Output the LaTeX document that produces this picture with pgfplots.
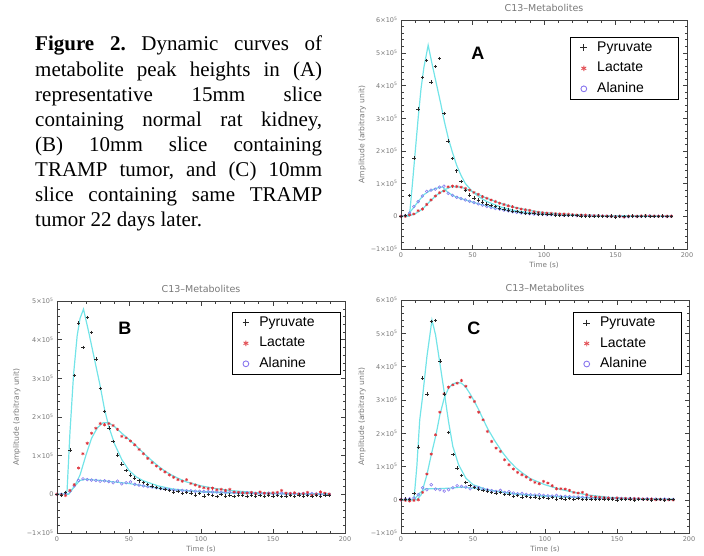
\documentclass[border=0pt]{standalone}
\usepackage{fontspec}
\setmainfont{Liberation Serif}
\newfontfamily\axfont{DejaVu Sans}
\newfontfamily\lsans{Liberation Sans}
\usepackage{pgfplots}
\pgfplotsset{compat=1.18}
\usepackage{pgfplotstable}

\definecolor{fitc}{RGB}{115,228,232}
\definecolor{lacc}{RGB}{222,50,58}
\definecolor{alac}{RGB}{136,118,238}
\definecolor{pyrc}{RGB}{40,40,40}
\definecolor{tickc}{RGB}{120,120,120}

\pgfplotstableread{
t p l a
0 0.00 0.00 0.00
3 0.02 0.00 0.02
6 0.63 0.04 0.10
9 1.78 0.07 0.30
12 3.28 0.17 0.45
15 4.24 0.22 0.62
18 4.77 0.36 0.76
21 4.10 0.50 0.80
24 4.58 0.62 0.83
27 4.82 0.72 0.89
30 3.15 0.77 0.92
33 2.30 0.90 0.70
36 1.76 0.92 0.64
39 1.39 0.91 0.58
42 1.06 0.89 0.54
45 0.78 0.85 0.50
48 0.65 0.80 0.46
51 0.56 0.73 0.42
54 0.50 0.67 0.38
57 0.44 0.60 0.34
60 0.38 0.55 0.30
63 0.33 0.50 0.27
66 0.29 0.45 0.24
69 0.25 0.40 0.22
72 0.22 0.36 0.19
75 0.19 0.32 0.17
78 0.16 0.29 0.14
81 0.14 0.25 0.12
84 0.12 0.22 0.10
87 0.10 0.20 0.09
90 0.09 0.18 0.08
93 0.08 0.14 0.07
96 0.07 0.12 0.06
99 0.06 0.11 0.06
102 0.05 0.10 0.05
105 0.05 0.09 0.05
108 0.04 0.08 0.04
111 0.03 0.07 0.04
114 0.03 0.07 0.03
117 0.02 0.06 0.03
120 0.02 0.05 0.03
123 0.02 0.04 0.02
126 0.01 0.04 0.02
129 0.00 0.03 0.02
132 0.01 0.02 0.01
135 -0.01 0.02 0.01
138 0.01 0.02 0.01
141 -0.01 0.01 0.01
144 0.00 0.01 0.00
147 0.01 0.00 0.00
150 -0.02 -0.01 -0.01
153 0.00 0.00 0.00
156 -0.01 -0.02 -0.02
159 0.00 0.00 -0.01
162 0.01 0.01 0.00
165 -0.01 0.00 -0.01
168 0.00 0.01 0.00
171 0.01 0.02 0.00
174 0.00 0.01 0.01
177 -0.01 0.01 0.00
180 0.00 0.00 0.00
183 0.01 0.01 0.00
186 0.00 0.00 -0.01
189 0.00 0.00 0.00
}\dataA

\pgfplotstableread{
t p l a
0 0.00 0.00 0.00
3 -0.02 -0.02 0.00
6 0.05 -0.03 0.02
9 1.15 0.10 0.08
12 3.07 0.25 0.22
15 4.43 0.68 0.36
18 3.80 1.05 0.40
21 4.58 1.32 0.38
24 4.19 1.58 0.37
27 3.50 1.71 0.36
30 2.74 1.83 0.34
33 2.15 1.80 0.35
36 1.72 1.83 0.33
39 1.36 1.78 0.30
42 1.02 1.68 0.34
45 0.78 1.50 0.27
48 0.62 1.46 0.30
51 0.50 1.38 0.32
54 0.42 1.28 0.26
57 0.35 1.16 0.24
60 0.30 1.05 0.22
63 0.26 0.93 0.20
66 0.22 0.82 0.19
69 0.18 0.73 0.17
72 0.15 0.65 0.15
75 0.12 0.58 0.14
78 0.10 0.50 0.12
81 0.06 0.44 0.11
84 0.08 0.38 0.10
87 0.02 0.34 0.10
90 0.05 0.38 0.09
93 0.03 0.28 0.09
96 -0.02 0.24 0.08
99 0.02 0.20 0.08
102 -0.04 0.17 0.07
105 0.00 0.15 0.07
108 -0.03 0.16 0.06
111 -0.05 0.12 0.06
114 0.00 0.13 0.05
117 -0.04 0.10 0.05
120 -0.02 0.13 0.05
123 -0.05 0.06 0.04
126 -0.02 0.05 0.04
129 -0.03 0.04 0.03
132 -0.05 0.03 0.04
135 -0.02 0.05 0.03
138 -0.04 0.02 0.02
141 -0.03 0.06 0.03
144 -0.05 0.03 0.02
147 -0.02 0.02 0.03
150 -0.04 0.04 0.02
153 -0.03 0.05 0.02
156 -0.05 0.10 0.03
159 -0.04 0.03 0.01
162 -0.03 0.02 0.02
165 -0.05 0.04 0.02
168 -0.02 0.01 0.01
171 -0.04 0.02 0.02
174 -0.03 0.05 0.01
177 -0.05 -0.02 0.02
180 -0.03 0.00 0.01
183 -0.04 0.06 0.00
186 -0.02 0.03 0.01
189 -0.03 0.01 0.00
}\dataB

\pgfplotstableread{
t p l a
0 0.00 0.00 0.00
3 0.02 -0.02 0.02
6 0.00 -0.04 0.03
9 0.18 -0.02 0.05
12 1.58 0.00 0.15
15 3.66 0.22 0.36
18 3.18 0.77 0.30
21 5.35 1.37 0.45
24 5.38 1.95 0.32
27 4.17 2.63 0.30
30 3.18 3.18 0.26
33 2.02 3.38 0.30
36 1.35 3.45 0.36
39 0.95 3.50 0.42
42 0.72 3.58 0.40
45 0.52 3.41 0.38
48 0.42 3.08 0.33
51 0.36 2.95 0.38
54 0.32 2.63 0.36
57 0.28 2.40 0.32
60 0.26 2.05 0.30
63 0.22 1.75 0.27
66 0.20 1.55 0.25
69 0.22 1.45 0.28
72 0.15 1.20 0.22
75 0.17 1.05 0.24
78 0.10 0.92 0.20
81 0.12 0.82 0.18
84 0.08 0.75 0.19
87 0.10 0.68 0.16
90 0.06 0.60 0.15
93 0.08 0.52 0.14
96 0.05 0.48 0.15
99 0.07 0.55 0.13
102 0.03 0.50 0.12
105 0.06 0.42 0.11
108 0.02 0.33 0.13
111 0.05 0.33 0.10
114 0.02 0.32 0.10
117 0.04 0.28 0.09
120 0.01 0.22 0.08
123 0.03 0.20 0.08
126 0.00 0.22 0.07
129 0.02 0.15 0.07
132 0.00 0.10 0.06
135 0.02 0.08 0.06
138 0.00 0.07 0.05
141 0.02 0.06 0.05
144 0.00 0.05 0.05
147 0.02 0.04 0.04
150 -0.01 0.05 0.05
153 0.01 0.03 0.04
156 0.00 0.04 0.03
159 0.02 0.02 0.04
162 -0.01 0.03 0.03
165 0.01 0.03 0.03
168 0.00 0.02 0.02
171 0.01 0.01 0.03
174 -0.01 0.02 0.02
177 0.00 0.00 0.02
180 0.01 0.01 0.01
183 -0.01 -0.01 0.02
186 0.00 0.00 0.01
189 0.00 -0.01 0.01
}\dataC

\pgfplotsset{
  idl/.style={
    scale only axis, xmin=0, xmax=200, ymin=-1,
    xtick={0,50,100,150,200}, xticklabels={0,50,100,150,200},
    minor x tick num=4, minor y tick num=4,
    tick align=inside, major tick length=4.5pt, minor tick length=2.5pt,
    every tick/.style={black!75, line width=0.4pt},
    axis line style={black!75, line width=0.6pt},
    ticklabel style={font=\axfont\fontsize{6.5}{6.5}\selectfont, text=tickc},
    title style={font=\axfont\fontsize{9.5}{9.5}\selectfont, text=tickc, yshift=-1.5pt},
    title={C13–Metabolites},
    xlabel={Time (s)}, ylabel={Amplitude (arbitrary unit)},
    every axis x label/.style={at={(axis description cs:0.5,0)}, anchor=north, yshift=-9pt,
      font=\axfont\fontsize{7.2}{7.2}\selectfont, text=tickc},
    every axis y label/.style={at={(axis description cs:-0.135,0.5)}, rotate=90, anchor=center,
      font=\axfont\fontsize{7.6}{7.6}\selectfont, text=tickc},
    legend style={anchor=north west, draw=black, line width=0.8pt, fill=white,
      inner xsep=7pt, inner ysep=3pt, row sep=5.5pt,
      font=\lsans\fontsize{14}{14}\selectfont,
      nodes={inner sep=1pt, text height=10pt, text depth=3pt},
      cells={anchor=west},
      /tikz/every odd column/.append style={column sep=6pt}},
  },
  pyr/.style={only marks, mark=+, mark size=1.7pt, pyrc, line width=0.65pt, forget plot},
  lac/.style={only marks, mark=asterisk, mark size=1.6pt, lacc, line width=0.6pt, forget plot},
  ala/.style={only marks, mark=o, mark size=1.4pt, alac, line width=0.55pt, forget plot},
  fit/.style={fitc, line width=1.2pt, no marks, forget plot},
  legpyr/.style={legend image code/.code={\path (0pt,-5pt) (12pt,5pt); \draw[pyrc, line width=1pt] plot[only marks, mark=+, mark size=3.4pt] coordinates {(6pt,0pt)};}},
  leglac/.style={legend image code/.code={\path (0pt,-5pt) (12pt,5pt); \draw[lacc!85!white, line width=0.9pt] plot[only marks, mark=asterisk, mark size=2.8pt] coordinates {(6pt,0pt)};}},
  legala/.style={legend image code/.code={\path (0pt,-5pt) (12pt,5pt); \draw[alac, line width=0.9pt] plot[only marks, mark=o, mark size=2.9pt] coordinates {(6pt,0pt)};}},
}

\newcommand{\mylegend}{%
  \addlegendimage{legpyr}\addlegendentry{\makebox[73pt][l]{Pyruvate}}
  \addlegendimage{leglac}\addlegendentry{\makebox[73pt][l]{Lactate}}
  \addlegendimage{legala}\addlegendentry{\makebox[73pt][l]{Alanine}}
}

\begin{document}
\frenchspacing
\begin{tikzpicture}
\path[use as bounding box] (0,0) rectangle (704pt,-556pt);

\node[anchor=north west, inner sep=0pt, text width=287pt, align=justify,
      font=\fontsize{21}{25.1}\selectfont] at (35pt,-36pt)
{\frenchspacing\textbf{Figure 2.} Dynamic curves of\linebreak
metabolite peak heights in (A)\linebreak
representative 15mm slice\linebreak
containing normal rat kidney,\linebreak
(B) 10mm slice containing\linebreak
TRAMP tumor, and (C) 10mm\linebreak
slice containing same TRAMP\linebreak
tumor 22 days later.};

% ---------------- A ----------------
\begin{axis}[idl, at={(401pt,-249pt)}, anchor=south west, width=286pt, height=229pt,
  ymax=6, ytick={-1,0,1,2,3,4,5,6},
  yticklabels={−1×10\textsuperscript{5},0,1×10\textsuperscript{5},2×10\textsuperscript{5},3×10\textsuperscript{5},4×10\textsuperscript{5},5×10\textsuperscript{5},6×10\textsuperscript{5}},
  legend style={at={(0.591,0.926)}}]
\addplot[fit] coordinates {(0,0) (5,0) (6,0.05) (8,1.0) (10,2.0) (12,3.0) (14,3.9) (16,4.55) (19,5.23) (22,4.6) (25,4.0) (28,3.4) (30.3,2.9) (33,2.4) (36,1.95) (39,1.55) (42,1.25) (45,1.0) (50,0.75) (55,0.58) (60,0.45) (70,0.28) (80,0.17) (90,0.11) (100,0.07) (115,0.04) (130,0.02) (150,0.01) (190,0)};
\addplot[fit] coordinates {(0,0) (5,0) (10,0.08) (15,0.22) (20,0.45) (25,0.65) (30,0.8) (35,0.9) (40,0.9) (45,0.85) (50,0.75) (60,0.55) (70,0.39) (80,0.27) (90,0.18) (100,0.11) (120,0.05) (140,0.02) (190,0)};
\addplot[fit] coordinates {(0,0) (4,0) (8,0.22) (12,0.45) (16,0.66) (20,0.78) (25,0.86) (29,0.9) (33,0.72) (38,0.6) (45,0.5) (55,0.37) (65,0.26) (75,0.17) (85,0.1) (100,0.06) (120,0.03) (150,0.01) (190,0)};
\addplot[ala] table[x=t,y=a] {\dataA};
\addplot[lac] table[x=t,y=l] {\dataA};
\addplot[pyr] table[x=t,y=p] {\dataA};
\mylegend
\node[font=\lsans\bfseries\fontsize{18}{18}\selectfont] at (rel axis cs:0.269,0.856) {A};
\end{axis}

% ---------------- B ----------------
\begin{axis}[idl, at={(57pt,-533pt)}, anchor=south west, width=288pt, height=232pt,
  ymax=5, ytick={-1,0,1,2,3,4,5},
  yticklabels={−1×10\textsuperscript{5},0,1×10\textsuperscript{5},2×10\textsuperscript{5},3×10\textsuperscript{5},4×10\textsuperscript{5},5×10\textsuperscript{5}},
  every axis y label/.style={at={(axis description cs:-0.14,0.5)}, rotate=90, anchor=center,
      font=\axfont\fontsize{7.6}{7.6}\selectfont, text=tickc},
  legend style={at={(0.608,0.953)}}]
\addplot[fit] coordinates {(0,0) (6,0) (7,0.1) (9,1.6) (11.5,3.1) (14,4.1) (16,4.55) (18.4,4.79) (22,4.2) (26,3.5) (30,2.8) (33,2.2) (36,1.75) (40,1.3) (45,0.9) (50,0.62) (55,0.45) (60,0.35) (70,0.22) (80,0.14) (100,0.06) (130,0.02) (190,0)};
\addplot[fit] coordinates {(0,0) (8,0) (12,0.2) (16,0.5) (20,1.0) (24,1.45) (28,1.72) (32,1.85) (36,1.85) (40,1.75) (45,1.58) (50,1.42) (55,1.25) (60,1.07) (65,0.9) (70,0.74) (75,0.6) (80,0.49) (85,0.4) (90,0.32) (100,0.22) (110,0.15) (120,0.1) (140,0.04) (160,0.02) (190,0)};
\addplot[fit] coordinates {(0,0) (8,0) (12,0.2) (16,0.36) (20,0.39) (30,0.36) (40,0.32) (50,0.28) (60,0.22) (70,0.16) (80,0.12) (90,0.09) (110,0.06) (130,0.04) (160,0.02) (190,0.01)};
\addplot[ala] table[x=t,y=a] {\dataB};
\addplot[lac] table[x=t,y=l] {\dataB};
\addplot[pyr] table[x=t,y=p] {\dataB};
\mylegend
\node[font=\lsans\bfseries\fontsize{18}{18}\selectfont] at (rel axis cs:0.236,0.884) {B};
\end{axis}

% ---------------- C ----------------
\begin{axis}[idl, at={(401pt,-533pt)}, anchor=south west, width=288pt, height=233pt,
  ymax=6, ytick={-1,0,1,2,3,4,5,6},
  yticklabels={−1×10\textsuperscript{5},0,1×10\textsuperscript{5},2×10\textsuperscript{5},3×10\textsuperscript{5},4×10\textsuperscript{5},5×10\textsuperscript{5},6×10\textsuperscript{5}},
  legend style={at={(0.597,0.948)}}]
\addplot[fit] coordinates {(0,0) (9,0) (11,1.0) (13,2.4) (15,3.1) (18,4.3) (21.5,5.4) (24,4.95) (27,4.1) (30.3,3.15) (33,2.35) (36,1.6) (40,1.05) (45,0.65) (50,0.45) (60,0.3) (80,0.16) (100,0.1) (140,0.04) (190,0)};
\addplot[fit] coordinates {(0,0) (11,0) (14,0.15) (18,0.75) (21,1.35) (24.3,1.95) (27,2.55) (30,3.05) (33,3.35) (36,3.48) (39,3.52) (42,3.5) (45,3.38) (48,3.18) (51,2.95) (54,2.7) (57,2.42) (60,2.15) (65,1.78) (70,1.45) (75,1.17) (80,0.95) (85,0.78) (90,0.63) (100,0.45) (110,0.32) (120,0.22) (130,0.14) (145,0.07) (160,0.04) (190,0.01)};
\addplot[fit] coordinates {(0,0) (9,0) (13,0.2) (17,0.33) (25,0.33) (35,0.35) (42,0.38) (50,0.35) (60,0.29) (70,0.23) (80,0.18) (90,0.14) (100,0.12) (120,0.08) (140,0.05) (160,0.03) (190,0.01)};
\addplot[ala] table[x=t,y=a] {\dataC};
\addplot[lac] table[x=t,y=l] {\dataC};
\addplot[pyr] table[x=t,y=p] {\dataC};
\mylegend
\node[font=\lsans\bfseries\fontsize{18}{18}\selectfont] at (rel axis cs:0.253,0.88) {C};
\end{axis}
\end{tikzpicture}
\end{document}
